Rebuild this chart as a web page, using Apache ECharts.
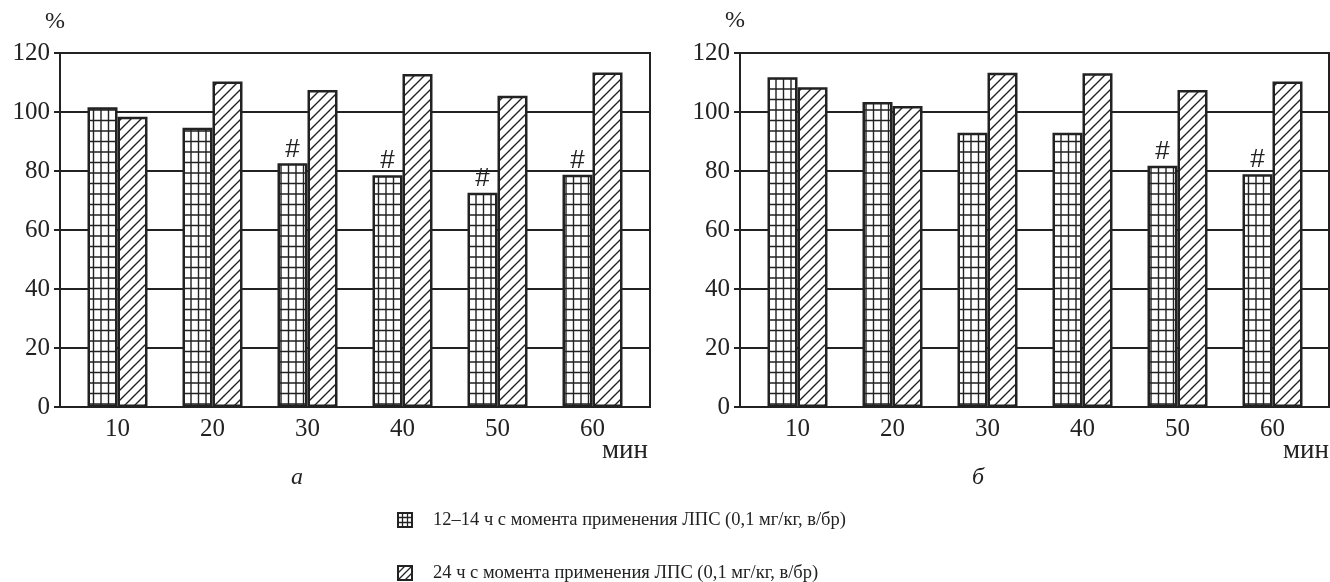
<!DOCTYPE html>
<html><head><meta charset="utf-8">
<script src="https://cdn.jsdelivr.net/npm/echarts@6/dist/echarts.min.js"></script>
<style>html,body{margin:0;padding:0;background:#fff}#c{width:1330px;height:582px}</style>
</head><body><div id="c"></div>
<script>
// ---- data ----
const categories = ['10', '20', '30', '40', '50', '60'];
const seriesNames = [
  '12\u201314 ч с момента применения ЛПС (0,1 мг/кг, в/бр)',
  '24 ч с момента применения ЛПС (0,1 мг/кг, в/бр)'
];
const panelA_12h = [101.6, 94.7, 82.6, 78.6, 72.6, 78.7];
const panelA_24h = [98.4, 110.3, 107.5, 112.9, 105.5, 113.4];
const panelB_12h = [111.8, 103.4, 93.0, 93.0, 81.8, 78.9];
const panelB_24h = [108.4, 102.0, 113.3, 113.1, 107.5, 110.3];
const panelA_marks = [false, false, true, true, true, true];
const panelB_marks = [false, false, false, false, true, true];
const yMin = 0, yMax = 120, yStep = 20;
const panelLetters = ['а', 'б'];
const unitY = '%';
const unitX = 'мин';

// ---- styles ----
const INK = '#222';
const SERIF = '"Liberation Serif", "DejaVu Serif", serif';
const SANS = '"Liberation Sans", "DejaVu Sans", sans-serif';

function gridPatternCanvas() {
  const c = document.createElement('canvas');
  c.width = 15; c.height = 21;
  const g = c.getContext('2d');
  g.fillStyle = '#fff'; g.fillRect(0, 0, 15, 21);
  g.strokeStyle = INK; g.lineWidth = 1.4;
  g.beginPath();
  [3.5, 11].forEach(x => { g.moveTo(x, 0); g.lineTo(x, 21); });
  [5, 15.5].forEach(y => { g.moveTo(0, y); g.lineTo(15, y); });
  g.stroke();
  return c;
}
function hatchPatternCanvas() {
  const c = document.createElement('canvas');
  c.width = 10; c.height = 10;
  const g = c.getContext('2d');
  g.fillStyle = '#fff'; g.fillRect(0, 0, 10, 10);
  g.strokeStyle = INK; g.lineWidth = 1.4;
  g.beginPath();
  g.moveTo(-1, 11); g.lineTo(11, -1);
  g.moveTo(-1, 1); g.lineTo(1, -1);
  g.moveTo(9, 11); g.lineTo(11, 9);
  g.stroke();
  return c;
}
function iconCanvas(kind) {
  const s = 16;
  const c = document.createElement('canvas');
  c.width = s; c.height = s;
  const g = c.getContext('2d');
  g.fillStyle = '#fff'; g.fillRect(0, 0, s, s);
  g.strokeStyle = INK; g.lineWidth = 1.3;
  g.beginPath();
  if (kind === 'grid') {
    [5.5, 10.5].forEach(v => { g.moveTo(v, 0); g.lineTo(v, s); g.moveTo(0, v); g.lineTo(s, v); });
  } else {
    g.moveTo(1, s - 1); g.lineTo(s - 1, 1);
    g.moveTo(1, 8); g.lineTo(8, 1);
    g.moveTo(8, s - 1); g.lineTo(s - 1, 8);
  }
  g.stroke();
  g.lineWidth = 2;
  g.strokeRect(1, 1, s - 2, s - 2);
  return c.toDataURL();
}

const gridPat = { image: gridPatternCanvas(), repeat: 'repeat' };
const hatchPat = { image: hatchPatternCanvas(), repeat: 'repeat' };

function bar(name, data, axisIdx, pattern, marks) {
  return {
    name, type: 'bar', data,
    xAxisIndex: axisIdx, yAxisIndex: axisIdx,
    barWidth: 30, barGap: '0%',
    itemStyle: { color: pattern, borderColor: INK, borderWidth: 2.5 },
    label: {
      show: !!marks, position: 'top', distance: 1,
      formatter: p => (marks && marks[p.dataIndex]) ? '#' : '',
      fontFamily: SANS, fontSize: 26, color: INK
    },
    emphasis: { disabled: true },
    animation: false
  };
}

const frameY = gi => ({
  gridIndex: gi, type: 'value', min: yMin, max: yMax, interval: yStep,
  axisLine: { show: true, lineStyle: { color: INK, width: 2 } },
  axisTick: { show: true, length: 6, lineStyle: { color: INK, width: 2 } },
  axisLabel: { margin: 10, fontFamily: SERIF, fontSize: 25, color: INK },
  splitLine: { show: true, lineStyle: { color: INK, width: 2 } }
});
const frameX = gi => ({
  gridIndex: gi, type: 'value', min: 0, max: 1,
  axisLine: { show: true, lineStyle: { color: INK, width: 2 } },
  axisTick: { show: false }, axisLabel: { show: false }, splitLine: { show: false }
});
const catX = gi => ({
  gridIndex: gi, type: 'category', data: categories,
  axisLine: { show: false }, axisTick: { show: false },
  axisLabel: { margin: 10, fontFamily: SERIF, fontSize: 25, color: INK }
});
const hiddenY = gi => ({ gridIndex: gi, type: 'value', min: yMin, max: yMax, show: false });

const legendBase = {
  orient: 'vertical', left: 397, padding: 0,
  itemWidth: 16, itemHeight: 16,
  selectedMode: false,
  textStyle: { fontFamily: SERIF, fontSize: 18.5, color: INK, lineHeight: 22, padding: [0, 0, 0, 15] }
};

const chart = echarts.init(document.getElementById('c'), null, { renderer: 'canvas' });
chart.setOption({
  animation: false,
  backgroundColor: '#fff',
  grid: [
    { left: 60, top: 53, width: 590, height: 354, show: true, borderColor: INK, borderWidth: 2, backgroundColor: 'transparent' },
    { left: 70, top: 53, width: 570, height: 354 },
    { left: 740, top: 53, width: 589, height: 354, show: true, borderColor: INK, borderWidth: 2, backgroundColor: 'transparent' },
    { left: 750, top: 53, width: 570, height: 354 }
  ],
  xAxis: [frameX(0), catX(1), frameX(2), catX(3)],
  yAxis: [frameY(0), hiddenY(1), frameY(2), hiddenY(3)],
  legend: [
    Object.assign({}, legendBase, { top: 509, data: [{ name: seriesNames[0], icon: 'image://' + iconCanvas('grid') }] }),
    Object.assign({}, legendBase, { top: 562, data: [{ name: seriesNames[1], icon: 'image://' + iconCanvas('hatch') }] })
  ],
  graphic: [
    { type: 'text', left: 45, top: 10, style: { text: unitY, font: '24px ' + SERIF, fill: INK } },
    { type: 'text', left: 725, top: 9, style: { text: unitY, font: '24px ' + SERIF, fill: INK } },
    { type: 'text', left: 602, top: 437, style: { text: unitX, font: '27px ' + SERIF, fill: INK } },
    { type: 'text', left: 1283, top: 437, style: { text: unitX, font: '27px ' + SERIF, fill: INK } },
    { type: 'text', left: 291, top: 466, style: { text: panelLetters[0], font: 'italic 24px ' + SERIF, fill: INK } },
    { type: 'text', left: 972, top: 466, style: { text: panelLetters[1], font: 'italic 24px ' + SERIF, fill: INK } }
  ],
  series: [
    bar(seriesNames[0], panelA_12h, 1, gridPat, panelA_marks),
    bar(seriesNames[1], panelA_24h, 1, hatchPat, null),
    bar(seriesNames[0], panelB_12h, 3, gridPat, panelB_marks),
    bar(seriesNames[1], panelB_24h, 3, hatchPat, null)
  ]
});
</script></body></html>
